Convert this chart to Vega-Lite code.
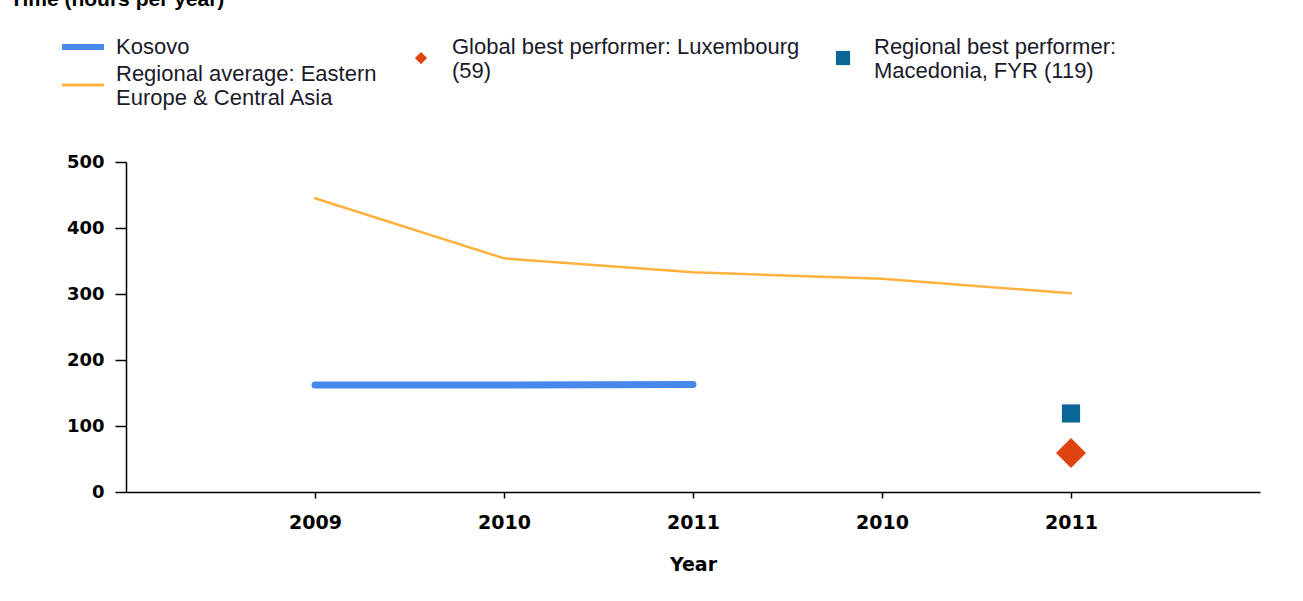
{
  "$schema": "https://vega.github.io/schema/vega-lite/v6.json",
  "width": 1134,
  "height": 330,
  "autosize": {"type": "none"},
  "padding": {"left": 126, "top": 162, "right": 43, "bottom": 109},
  "background": "white",
  "title": {
    "text": "Time (hours per year)",
    "anchor": "start",
    "frame": "group",
    "font": "Liberation Sans",
    "fontSize": 21,
    "fontWeight": "bold",
    "color": "#000000",
    "dx": -116,
    "dy": -26,
    "offset": 0
  },
  "config": {
    "view": {"stroke": null},
    "axis": {"grid": false, "domainColor": "#000000", "tickColor": "#000000", "domainWidth": 1.5, "tickWidth": 1.5},
    "legend": {"padding": 0}
  },
  "datasets": {
    "lines": [
      {"series": "Kosovo", "year": "2009", "value": 162},
      {"series": "Kosovo", "year": "2010", "value": 162},
      {"series": "Kosovo", "year": "2011", "value": 163},
      {"series": "Regional average: Eastern Europe & Central Asia", "year": "2009", "value": 445},
      {"series": "Regional average: Eastern Europe & Central Asia", "year": "2010", "value": 354},
      {"series": "Regional average: Eastern Europe & Central Asia", "year": "2011", "value": 333},
      {"series": "Regional average: Eastern Europe & Central Asia", "year": "2010b", "value": 323},
      {"series": "Regional average: Eastern Europe & Central Asia", "year": "2011b", "value": 301}
    ],
    "global": [
      {"series": "Global best performer: Luxembourg (59)", "year": "2011b", "value": 59}
    ],
    "regional": [
      {"series": "Regional best performer: Macedonia, FYR (119)", "year": "2011b", "value": 119}
    ]
  },
  "encoding": {
    "x": {
      "field": "year",
      "type": "ordinal",
      "scale": {"type": "point", "padding": 1, "domain": ["2009", "2010", "2011", "2010b", "2011b"]},
      "axis": {
        "title": "Year",
        "labelExpr": "substring(datum.label, 0, 4)",
        "labelAngle": 0,
        "labelFont": "DejaVu Sans",
        "labelFontWeight": "bold",
        "labelFontSize": 19,
        "labelColor": "#000000",
        "labelPadding": 15,
        "tickSize": 6,
        "titleFont": "DejaVu Sans",
        "titleFontWeight": "bold",
        "titleFontSize": 19,
        "titleColor": "#000000",
        "titlePadding": 23
      }
    },
    "y": {
      "field": "value",
      "type": "quantitative",
      "scale": {"domain": [0, 500], "nice": false},
      "axis": {
        "title": null,
        "values": [0, 100, 200, 300, 400, 500],
        "labelFont": "DejaVu Sans",
        "labelFontWeight": "bold",
        "labelFontSize": 18,
        "labelColor": "#000000",
        "tickSize": 11,
        "labelPadding": 11
      }
    }
  },
  "layer": [
    {
      "data": {"name": "lines"},
      "mark": {"type": "line", "strokeCap": "round"},
      "encoding": {
        "color": {
          "field": "series",
          "type": "nominal",
          "scale": {"domain": ["Kosovo", "Regional average: Eastern Europe & Central Asia"], "range": ["#4689ea", "#fdb23f"]},
          "legend": {
            "orient": "none",
            "legendX": -54,
            "legendY": -126,
            "title": null,
            "symbolType": "stroke",
            "symbolSize": 1764,
            "symbolStrokeWidth": 3,
            "labelOffset": 22,
            "labelFont": "Liberation Sans",
            "labelFontSize": 22,
            "labelColor": "#1a1a2a",
            "labelLimit": 400,
            "rowPadding": 4,
            "labelExpr": "datum.value === 'Kosovo' ? datum.label : ['Regional average: Eastern', 'Europe & Central Asia']",
            "encode": {
              "symbols": {"update": {"strokeWidth": {"signal": "datum.value === 'Kosovo' ? 6 : 3"}}},
              "labels": {"update": {"dy": {"signal": "datum.value === 'Kosovo' ? 0 : -11"}}}
            }
          }
        },
        "strokeWidth": {"condition": {"test": "datum.series === 'Kosovo'", "value": 7}, "value": 2.5}
      }
    },
    {
      "data": {"name": "global"},
      "mark": {"type": "point", "shape": "diamond", "filled": true, "size": 900, "opacity": 1},
      "encoding": {
        "color": {
          "field": "series",
          "type": "nominal",
          "scale": {"range": ["#dd4411"]},
          "legend": {
            "orient": "none",
            "legendX": 284,
            "legendY": -126,
            "title": null,
            "symbolType": "M-1,1.8L0,0.8L1,1.8L0,2.8Z",
            "symbolSize": 150,
            "labelOffset": 20,
            "labelFont": "Liberation Sans",
            "labelFontSize": 22,
            "labelColor": "#1a1a2a",
            "labelLimit": 400,
            "labelExpr": "['Global best performer: Luxembourg', '(59)']"
          }
        }
      }
    },
    {
      "data": {"name": "regional"},
      "mark": {"type": "point", "shape": "square", "filled": true, "size": 330, "opacity": 1},
      "encoding": {
        "color": {
          "field": "series",
          "type": "nominal",
          "scale": {"range": ["#0a6696"]},
          "legend": {
            "orient": "none",
            "legendX": 706,
            "legendY": -126,
            "title": null,
            "symbolType": "M-1,0.56H1V2.56H-1Z",
            "symbolSize": 200,
            "labelOffset": 20,
            "labelFont": "Liberation Sans",
            "labelFontSize": 22,
            "labelColor": "#1a1a2a",
            "labelLimit": 400,
            "labelExpr": "['Regional best performer:', 'Macedonia, FYR (119)']"
          }
        }
      }
    }
  ],
  "resolve": {"scale": {"color": "independent"}}
}
